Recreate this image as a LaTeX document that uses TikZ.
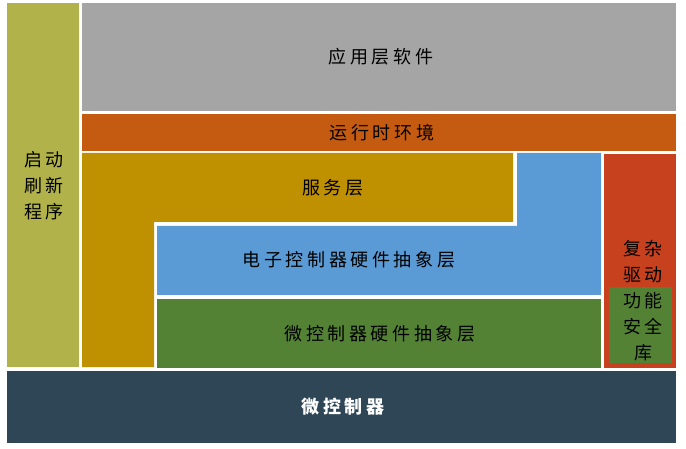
\documentclass[tikz,border=0pt]{standalone}
\usepackage{fontspec}
\newfontfamily\cjk[LetterSpace=20]{Noto Sans CJK SC}
\definecolor{startupc}{HTML}{B1B34A}
\definecolor{appc}{HTML}{A5A5A5}
\definecolor{rtec}{HTML}{C55A11}
\definecolor{servc}{HTML}{BF9000}
\definecolor{ecuc}{HTML}{5B9BD5}
\definecolor{mcalc}{HTML}{548235}
\definecolor{cddc}{HTML}{C7411E}
\definecolor{mcuc}{HTML}{2F4656}
\tikzset{
  lbl/.style={font=\cjk\fontsize{18}{26}\selectfont, align=center, inner sep=0pt, text=black},
}
\begin{document}
\begin{tikzpicture}[x=1pt, y=-1pt]
  \useasboundingbox (0,0) rectangle (686,449);
  % layers
  \fill[startupc] (7,3) rectangle (79,367);
  \fill[appc] (82,3) rectangle (676,111);
  \fill[rtec] (82,114) rectangle (676,151);
  \fill[servc] (82,153) -- (513,153) -- (513,222) -- (154,222) -- (154,367) -- (82,367) -- cycle;
  \fill[ecuc] (517,153) -- (601,153) -- (601,295) -- (157,295) -- (157,226) -- (517,226) -- cycle;
  \fill[mcalc] (157,299) rectangle (601,368);
  \fill[cddc] (604,154) rectangle (676,368);
  \fill[mcalc] (609,287) rectangle (672,363);
  \fill[mcuc] (7,371) rectangle (676,443);
  % labels
  \node[lbl] (app) at (381,57) {应用层软件};
  \node[lbl] (rte) at (382,133) {运行时环境};
  \node[lbl] (serv) at (333,188) {服务层};
  \node[lbl] (ecu) at (349,260) {电子控制器硬件抽象层};
  \node[lbl] (mcal) at (380,334) {微控制器硬件抽象层};
  \node[lbl, text=white] (mcu) at (343,407) {\bfseries 微控制器};
  \node[lbl] (boot) at (44,186) {启\hspace{3pt}动\\刷\hspace{3pt}新\\程\hspace{3pt}序};
  \node[lbl] (cdd) at (643,261.5) {复杂\\驱动};
  \node[lbl] (safe) at (643,327) {功能\\安全\\库};
\end{tikzpicture}
\end{document}
